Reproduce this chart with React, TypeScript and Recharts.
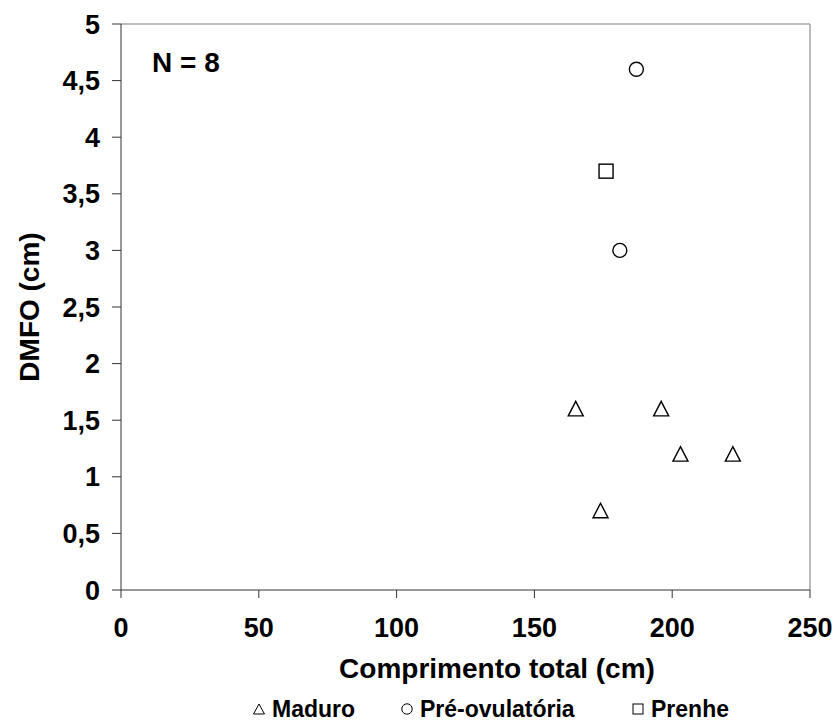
import React from 'react';
import {
  ScatterChart,
  Scatter,
  XAxis,
  YAxis,
  ReferenceLine,
  Legend,
  Label,
} from 'recharts';

const xTicks = [0, 50, 100, 150, 200, 250];
const yTicks = [0, 0.5, 1, 1.5, 2, 2.5, 3, 3.5, 4, 4.5, 5];

const maduroComprimento = [165, 196, 203, 222, 174];
const maduroDmfo = [1.6, 1.6, 1.2, 1.2, 0.7];

const preOvComprimento = [187, 181];
const preOvDmfo = [4.6, 3.0];

const prenheComprimento = [176];
const prenheDmfo = [3.7];

const toPoints = (xs: number[], ys: number[]) => xs.map((x, i) => ({ x, y: ys[i] }));

const maduro = toPoints(maduroComprimento, maduroDmfo);
const preOv = toPoints(preOvComprimento, preOvDmfo);
const prenhe = toPoints(prenheComprimento, prenheDmfo);

const FONT = '"Liberation Sans", Arial, sans-serif';
const fmt = (v: number) => String(v).replace('.', ',');

const Triangle = (props: any) => {
  const { cx, cy } = props;
  if (cx == null || cy == null) return null;
  return (
    <path
      d={`M${cx},${cy - 7.5} L${cx + 7.5},${cy + 7} L${cx - 7.5},${cy + 7} Z`}
      fill="#fff"
      stroke="#000"
      strokeWidth={1.4}
    />
  );
};

const Circle = (props: any) => {
  const { cx, cy } = props;
  if (cx == null || cy == null) return null;
  return <circle cx={cx} cy={cy} r={7} fill="#fff" stroke="#000" strokeWidth={1.4} />;
};

const Square = (props: any) => {
  const { cx, cy } = props;
  if (cx == null || cy == null) return null;
  return <rect x={cx - 7} y={cy - 7} width={14} height={14} fill="#fff" stroke="#000" strokeWidth={1.4} />;
};

const legendItems = [
  { name: 'Maduro', left: 253, icon: 'tri' },
  { name: 'Pré-ovulatória', left: 401, icon: 'circ' },
  { name: 'Prenhe', left: 632, icon: 'sq' },
];

const LegendIcon = ({ kind }: { kind: string }) => (
  <svg width={12} height={12} style={{ marginRight: 7 }}>
    {kind === 'tri' && <path d="M6,1 L11.5,11 L0.5,11 Z" fill="#fff" stroke="#000" strokeWidth={1} />}
    {kind === 'circ' && <circle cx={6} cy={6} r={5.2} fill="#fff" stroke="#000" strokeWidth={1} />}
    {kind === 'sq' && <rect x={1} y={1} width={10} height={10} fill="#fff" stroke="#000" strokeWidth={1} />}
  </svg>
);

const renderLegend = () => (
  <div style={{ position: 'relative', width: 839, height: 36 }}>
    {legendItems.map((it) => (
      <div
        key={it.name}
        style={{
          position: 'absolute',
          left: it.left,
          top: 0,
          height: 36,
          display: 'flex',
          alignItems: 'center',
          fontFamily: FONT,
          fontWeight: 'bold',
          fontSize: 23,
          color: '#000',
        }}
      >
        <LegendIcon kind={it.icon} />
        {it.name}
      </div>
    ))}
  </div>
);

const tickStyle = { fontSize: 27, fontWeight: 'bold', fill: '#000', fontFamily: FONT };

export default function App() {
  return (
    <div style={{ position: 'absolute', left: 0, top: 0, width: 839, height: 727, background: '#fff' }}>
      <ScatterChart width={839} height={727} margin={{ top: 24, right: 29, bottom: 0, left: 0 }}>
        <XAxis
          type="number"
          dataKey="x"
          domain={[0, 250]}
          ticks={xTicks}
          tick={tickStyle}
          tickSize={8}
          tickMargin={20}
          stroke="#333"
          height={101}
          allowDataOverflow
        >
          <Label
            content={() => (
              <text
                x={497}
                y={678}
                textAnchor="middle"
                fontFamily={FONT}
                fontWeight="bold"
                fontSize={28}
                fill="#000"
              >
                Comprimento total (cm)
              </text>
            )}
          />
        </XAxis>
        <YAxis
          type="number"
          dataKey="y"
          domain={[0, 5]}
          ticks={yTicks}
          tickFormatter={fmt}
          tick={tickStyle}
          tickSize={9}
          tickMargin={12}
          stroke="#333"
          width={121}
          allowDataOverflow
        >
          <Label
            content={() => (
              <text
                x={39}
                y={307}
                transform="rotate(-90 39 307)"
                textAnchor="middle"
                fontFamily={FONT}
                fontWeight="bold"
                fontSize={28}
                fill="#000"
              >
                DMFO (cm)
              </text>
            )}
          />
        </YAxis>
        <ReferenceLine y={5} stroke="#a6a6a6" strokeWidth={1.5} />
        <ReferenceLine x={250} stroke="#a6a6a6" strokeWidth={1.5} />
        <Legend verticalAlign="bottom" content={renderLegend} wrapperStyle={{ height: 36 }} />
        <Scatter name="Maduro" data={maduro} shape={<Triangle />} isAnimationActive={false} />
        <Scatter name="Pré-ovulatória" data={preOv} shape={<Circle />} isAnimationActive={false} />
        <Scatter name="Prenhe" data={prenhe} shape={<Square />} isAnimationActive={false} />
      </ScatterChart>
      <div
        style={{
          position: 'absolute',
          left: 152,
          top: 47,
          fontFamily: FONT,
          fontWeight: 'bold',
          fontSize: 28,
          lineHeight: '32px',
          color: '#000',
        }}
      >
        N = 8
      </div>
    </div>
  );
}
